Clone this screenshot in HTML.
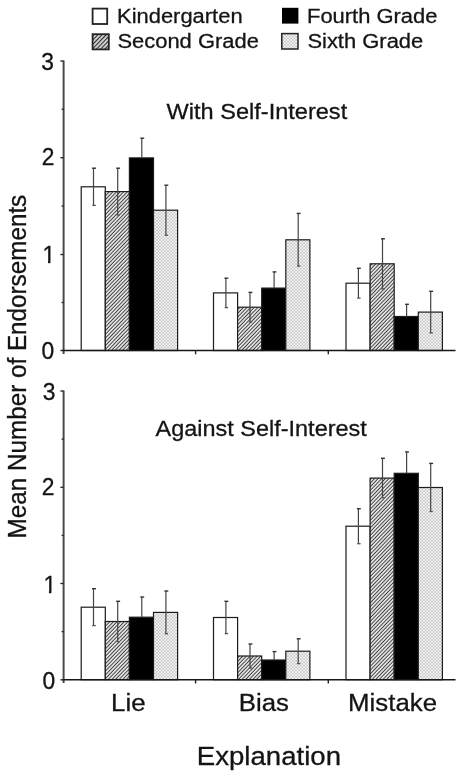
<!DOCTYPE html>
<html><head><meta charset="utf-8"><title>Chart</title>
<style>html,body{margin:0;padding:0;background:#fff}svg{display:block}text{font-family:"Liberation Sans",Arial,sans-serif;fill:#141414;stroke:#141414;stroke-width:0.3px}</style></head>
<body><svg width="462" height="778" viewBox="0 0 462 778">
<defs>
<pattern id="hatch" width="8" height="2.6" patternUnits="userSpaceOnUse" patternTransform="rotate(-46)"><rect width="8" height="2.6" fill="#fafafa"/><rect y="0.7" width="8" height="1.1" fill="#3c3c3c"/></pattern>
<pattern id="hatchL" width="8" height="3" patternUnits="userSpaceOnUse" patternTransform="rotate(-46)"><rect width="8" height="3" fill="#fff"/><rect y="0.8" width="8" height="1.45" fill="#2a2a2a"/></pattern>
<clipPath id="one"><path d="M-14,-20 H1 V-1.9 H-4.85 V1 H-7.3 V-1.9 H-14 Z"/></clipPath>
<pattern id="dots" width="3.2" height="3.2" patternUnits="userSpaceOnUse"><rect width="3.2" height="3.2" fill="#fcfcfc"/><path d="M-1,-1 L4.2,4.2 M4.2,-1 L-1,4.2" stroke="#c0c0c0" stroke-width="0.78" fill="none"/></pattern>
</defs>
<rect width="462" height="778" fill="#fff"/>

<rect x="81.2" y="186.8" width="24.1" height="163.7" fill="#fff" stroke="#1c1c1c" stroke-width="1.2"/>
<rect x="105.3" y="191.6" width="24.1" height="158.9" fill="url(#hatch)" stroke="#1c1c1c" stroke-width="1.2"/>
<rect x="129.4" y="157.9" width="24.1" height="192.6" fill="#000" stroke="#1c1c1c" stroke-width="1.2"/>
<rect x="153.5" y="210.2" width="24.1" height="140.3" fill="url(#dots)" stroke="#1c1c1c" stroke-width="1.2"/>
<path d="M93.5,168.2 V205.4" stroke="#444" stroke-width="1.2" fill="none"/><path d="M92.0,168.2 H96.0" stroke="#333" stroke-width="1.4"/><path d="M92.3,205.4 H95.8" stroke="#555" stroke-width="1.3"/>
<path d="M117.7,168.2 V215.0" stroke="#444" stroke-width="1.2" fill="none"/><path d="M116.2,168.2 H120.1" stroke="#333" stroke-width="1.4"/><path d="M116.5,215.0 H119.9" stroke="#555" stroke-width="1.3"/>
<path d="M141.8,138.2 V157.9" stroke="#444" stroke-width="1.2" fill="none"/><path d="M140.3,138.2 H144.2" stroke="#333" stroke-width="1.4"/>
<path d="M165.9,185.2 V235.2" stroke="#444" stroke-width="1.2" fill="none"/><path d="M164.4,185.2 H168.3" stroke="#333" stroke-width="1.4"/><path d="M164.7,235.2 H168.1" stroke="#555" stroke-width="1.3"/>
<rect x="213.5" y="292.9" width="24.1" height="57.6" fill="#fff" stroke="#1c1c1c" stroke-width="1.2"/>
<rect x="237.6" y="307.2" width="24.1" height="43.3" fill="url(#hatch)" stroke="#1c1c1c" stroke-width="1.2"/>
<rect x="261.7" y="288.1" width="24.1" height="62.4" fill="#000" stroke="#1c1c1c" stroke-width="1.2"/>
<rect x="285.8" y="239.8" width="24.1" height="110.7" fill="url(#dots)" stroke="#1c1c1c" stroke-width="1.2"/>
<path d="M225.9,278.2 V307.6" stroke="#444" stroke-width="1.2" fill="none"/><path d="M224.4,278.2 H228.3" stroke="#333" stroke-width="1.4"/><path d="M224.7,307.6 H228.1" stroke="#555" stroke-width="1.3"/>
<path d="M250.0,292.4 V321.9" stroke="#444" stroke-width="1.2" fill="none"/><path d="M248.5,292.4 H252.4" stroke="#333" stroke-width="1.4"/><path d="M248.8,321.9 H252.2" stroke="#555" stroke-width="1.3"/>
<path d="M274.1,271.9 V288.1" stroke="#444" stroke-width="1.2" fill="none"/><path d="M272.6,271.9 H276.4" stroke="#333" stroke-width="1.4"/>
<path d="M298.2,213.4 V266.1" stroke="#444" stroke-width="1.2" fill="none"/><path d="M296.7,213.4 H300.6" stroke="#333" stroke-width="1.4"/><path d="M297.0,266.1 H300.4" stroke="#555" stroke-width="1.3"/>
<rect x="346.0" y="283.2" width="24.1" height="67.3" fill="#fff" stroke="#1c1c1c" stroke-width="1.2"/>
<rect x="370.1" y="263.8" width="24.1" height="86.7" fill="url(#hatch)" stroke="#1c1c1c" stroke-width="1.2"/>
<rect x="394.2" y="316.5" width="24.1" height="34.0" fill="#000" stroke="#1c1c1c" stroke-width="1.2"/>
<rect x="418.3" y="312.1" width="24.1" height="38.4" fill="url(#dots)" stroke="#1c1c1c" stroke-width="1.2"/>
<path d="M358.4,268.3 V298.1" stroke="#444" stroke-width="1.2" fill="none"/><path d="M356.9,268.3 H360.8" stroke="#333" stroke-width="1.4"/><path d="M357.2,298.1 H360.6" stroke="#555" stroke-width="1.3"/>
<path d="M382.5,238.8 V288.9" stroke="#444" stroke-width="1.2" fill="none"/><path d="M381.0,238.8 H384.9" stroke="#333" stroke-width="1.4"/><path d="M381.3,288.9 H384.7" stroke="#555" stroke-width="1.3"/>
<path d="M406.6,304.3 V316.5" stroke="#444" stroke-width="1.2" fill="none"/><path d="M405.1,304.3 H408.9" stroke="#333" stroke-width="1.4"/>
<path d="M430.7,291.3 V332.9" stroke="#444" stroke-width="1.2" fill="none"/><path d="M429.2,291.3 H433.1" stroke="#333" stroke-width="1.4"/><path d="M429.5,332.9 H432.9" stroke="#555" stroke-width="1.3"/>
<path d="M63.6,60.4 V353.9" stroke="#4a4a4a" stroke-width="2" fill="none"/>
<path d="M62.6,350.5 H455.5" stroke="#161616" stroke-width="1.5" fill="none"/>
<path d="M60.4,350.5 H63.6" stroke="#222" stroke-width="1.3"/>
<text transform="translate(54.1,359.1) scale(0.98,1)" font-size="23.3" text-anchor="end">0</text>
<path d="M61.6,302.5 H63.6" stroke="#222" stroke-width="1.3"/>
<path d="M60.4,254.5 H63.6" stroke="#222" stroke-width="1.3"/>
<text transform="translate(55.2,262.7) scale(0.98,1)" font-size="23.3" text-anchor="end" clip-path="url(#one)">1</text>
<path d="M61.6,206.1 H63.6" stroke="#222" stroke-width="1.3"/>
<path d="M60.4,157.7 H63.6" stroke="#222" stroke-width="1.3"/>
<text transform="translate(54.5,164.8) scale(0.98,1)" font-size="23.3" text-anchor="end">2</text>
<path d="M61.6,109.3 H63.6" stroke="#222" stroke-width="1.3"/>
<path d="M60.4,61.0 H63.6" stroke="#222" stroke-width="1.3"/>
<text transform="translate(53.9,70.4) scale(0.98,1)" font-size="23.3" text-anchor="end">3</text>
<path d="M195.6,350.5 v3.8" stroke="#222" stroke-width="1.4"/>
<path d="M328.3,350.5 v3.8" stroke="#222" stroke-width="1.4"/>
<text transform="translate(166.6,118.6) scale(1.045,1)" font-size="22.55" text-anchor="start">With Self-Interest</text>
<rect x="81.2" y="607.2" width="24.1" height="72.5" fill="#fff" stroke="#1c1c1c" stroke-width="1.2"/>
<rect x="105.3" y="621.5" width="24.1" height="58.2" fill="url(#hatch)" stroke="#1c1c1c" stroke-width="1.2"/>
<rect x="129.4" y="617.2" width="24.1" height="62.5" fill="#000" stroke="#1c1c1c" stroke-width="1.2"/>
<rect x="153.5" y="612.4" width="24.1" height="67.3" fill="url(#dots)" stroke="#1c1c1c" stroke-width="1.2"/>
<path d="M93.5,588.7 V625.6" stroke="#444" stroke-width="1.2" fill="none"/><path d="M92.0,588.7 H96.0" stroke="#333" stroke-width="1.4"/><path d="M92.3,625.6 H95.8" stroke="#555" stroke-width="1.3"/>
<path d="M117.7,601.3 V641.7" stroke="#444" stroke-width="1.2" fill="none"/><path d="M116.2,601.3 H120.1" stroke="#333" stroke-width="1.4"/><path d="M116.5,641.7 H119.9" stroke="#555" stroke-width="1.3"/>
<path d="M141.8,597.0 V617.2" stroke="#444" stroke-width="1.2" fill="none"/><path d="M140.3,597.0 H144.2" stroke="#333" stroke-width="1.4"/>
<path d="M165.9,591.0 V633.7" stroke="#444" stroke-width="1.2" fill="none"/><path d="M164.4,591.0 H168.3" stroke="#333" stroke-width="1.4"/><path d="M164.7,633.7 H168.1" stroke="#555" stroke-width="1.3"/>
<rect x="213.5" y="617.5" width="24.1" height="62.2" fill="#fff" stroke="#1c1c1c" stroke-width="1.2"/>
<rect x="237.6" y="656.0" width="24.1" height="23.7" fill="url(#hatch)" stroke="#1c1c1c" stroke-width="1.2"/>
<rect x="261.7" y="660.0" width="24.1" height="19.7" fill="#000" stroke="#1c1c1c" stroke-width="1.2"/>
<rect x="285.8" y="651.2" width="24.1" height="28.5" fill="url(#dots)" stroke="#1c1c1c" stroke-width="1.2"/>
<path d="M225.9,601.3 V633.6" stroke="#444" stroke-width="1.2" fill="none"/><path d="M224.4,601.3 H228.3" stroke="#333" stroke-width="1.4"/><path d="M224.7,633.6 H228.1" stroke="#555" stroke-width="1.3"/>
<path d="M250.0,644.0 V668.1" stroke="#444" stroke-width="1.2" fill="none"/><path d="M248.5,644.0 H252.4" stroke="#333" stroke-width="1.4"/><path d="M248.8,668.1 H252.2" stroke="#555" stroke-width="1.3"/>
<path d="M274.1,651.6 V660.0" stroke="#444" stroke-width="1.2" fill="none"/><path d="M272.6,651.6 H276.4" stroke="#333" stroke-width="1.4"/>
<path d="M298.2,638.8 V663.6" stroke="#444" stroke-width="1.2" fill="none"/><path d="M296.7,638.8 H300.6" stroke="#333" stroke-width="1.4"/><path d="M297.0,663.6 H300.4" stroke="#555" stroke-width="1.3"/>
<rect x="346.0" y="526.2" width="24.1" height="153.5" fill="#fff" stroke="#1c1c1c" stroke-width="1.2"/>
<rect x="370.1" y="478.1" width="24.1" height="201.6" fill="url(#hatch)" stroke="#1c1c1c" stroke-width="1.2"/>
<rect x="394.2" y="473.3" width="24.1" height="206.4" fill="#000" stroke="#1c1c1c" stroke-width="1.2"/>
<rect x="418.3" y="487.5" width="24.1" height="192.2" fill="url(#dots)" stroke="#1c1c1c" stroke-width="1.2"/>
<path d="M358.4,508.7 V543.7" stroke="#444" stroke-width="1.2" fill="none"/><path d="M356.9,508.7 H360.8" stroke="#333" stroke-width="1.4"/><path d="M357.2,543.7 H360.6" stroke="#555" stroke-width="1.3"/>
<path d="M382.5,458.3 V497.8" stroke="#444" stroke-width="1.2" fill="none"/><path d="M381.0,458.3 H384.9" stroke="#333" stroke-width="1.4"/><path d="M381.3,497.8 H384.7" stroke="#555" stroke-width="1.3"/>
<path d="M406.6,451.9 V473.3" stroke="#444" stroke-width="1.2" fill="none"/><path d="M405.1,451.9 H408.9" stroke="#333" stroke-width="1.4"/>
<path d="M430.7,463.4 V511.5" stroke="#444" stroke-width="1.2" fill="none"/><path d="M429.2,463.4 H433.1" stroke="#333" stroke-width="1.4"/><path d="M429.5,511.5 H432.9" stroke="#555" stroke-width="1.3"/>
<path d="M63.6,390.4 V683.1" stroke="#4a4a4a" stroke-width="2" fill="none"/>
<path d="M62.6,679.7 H455.5" stroke="#161616" stroke-width="1.5" fill="none"/>
<path d="M60.4,679.8 H63.6" stroke="#222" stroke-width="1.3"/>
<text transform="translate(55.1,688.8) scale(0.98,1)" font-size="23.3" text-anchor="end">0</text>
<path d="M61.6,631.6 H63.6" stroke="#222" stroke-width="1.3"/>
<path d="M60.4,583.5 H63.6" stroke="#222" stroke-width="1.3"/>
<text transform="translate(56.1,592.9) scale(0.98,1)" font-size="23.3" text-anchor="end" clip-path="url(#one)">1</text>
<path d="M61.6,535.4 H63.6" stroke="#222" stroke-width="1.3"/>
<path d="M60.4,487.3 H63.6" stroke="#222" stroke-width="1.3"/>
<text transform="translate(54.5,495.3) scale(0.98,1)" font-size="23.3" text-anchor="end">2</text>
<path d="M61.6,439.1 H63.6" stroke="#222" stroke-width="1.3"/>
<path d="M60.4,391.0 H63.6" stroke="#222" stroke-width="1.3"/>
<text transform="translate(55.5,400.0) scale(0.98,1)" font-size="23.3" text-anchor="end">3</text>
<path d="M195.6,679.7 v3.8" stroke="#222" stroke-width="1.4"/>
<path d="M328.3,679.7 v3.8" stroke="#222" stroke-width="1.4"/>
<text transform="translate(155.6,436.0) scale(1.045,1)" font-size="22.45" text-anchor="start">Against Self-Interest</text>
<rect x="92.6" y="8.6" width="14.6" height="15.4" fill="#fff" stroke="#222" stroke-width="1.8"/>
<text transform="translate(117.0,23.3) scale(1.045,1)" font-size="21" text-anchor="start">Kindergarten</text>
<rect x="92.6" y="34.2" width="16.2" height="15.2" fill="url(#hatchL)" stroke="#222" stroke-width="1.8"/>
<text transform="translate(117.4,48.3) scale(1.045,1)" font-size="21" text-anchor="start">Second Grade</text>
<rect x="282" y="7.8" width="16.4" height="15.8" fill="#000"/>
<text transform="translate(307.0,23.3) scale(1.045,1)" font-size="21" text-anchor="start">Fourth Grade</text>
<rect x="281.8" y="33.6" width="16.2" height="15.4" fill="url(#dots)" stroke="#222" stroke-width="1.5"/>
<text transform="translate(307.4,48.3) scale(1.045,1)" font-size="21" text-anchor="start">Sixth Grade</text>
<text transform="translate(111.1,711.2) scale(1.045,1)" font-size="24.7" text-anchor="start">Lie</text>
<text transform="translate(238.8,711.2) scale(1.045,1)" font-size="24.7" text-anchor="start">Bias</text>
<text transform="translate(348.1,711.2) scale(1.045,1)" font-size="24.7" text-anchor="start">Mistake</text>
<text transform="translate(196.8,764.8) scale(1.045,1)" font-size="26.4" text-anchor="start">Explanation</text>
<text transform="translate(26.0,538.4) scale(1.045,1) rotate(-90)" font-size="24.25">Mean Number of Endorsements</text>
</svg></body></html>
